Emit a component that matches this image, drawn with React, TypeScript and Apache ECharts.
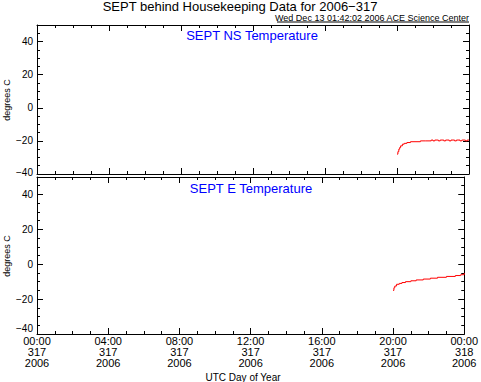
import React, { useEffect, useRef } from 'react';
import * as echarts from 'echarts';

const mainTitle = 'SEPT behind Housekeeping Data for 2006\u2212317';
const stampText = 'Wed Dec 13 01:42:02 2006 ACE Science Center';
const panelTitles = ['SEPT NS Temperature', 'SEPT E Temperature'];
const yAxisName = 'degrees C';
const xAxisName = 'UTC Day of Year';

const xTickHours = [0, 4, 8, 12, 16, 20, 24];
const xTickLabels = [
  '00:00\n317\n2006',
  '04:00\n317\n2006',
  '08:00\n317\n2006',
  '12:00\n317\n2006',
  '16:00\n317\n2006',
  '20:00\n317\n2006',
  '00:00\n318\n2006',
];

const nsHours = [20.0, 20.05, 20.1, 20.15, 20.2, 20.3, 20.4, 20.55, 20.75, 21.0, 21.3, 21.6, 21.9, 22.0, 22.1, 22.3, 22.4, 22.6, 22.7, 22.9, 23.0, 23.2, 23.3, 23.5, 23.6, 23.8, 23.9, 24.0];
const nsTemps = [-28, -26.5, -25, -24, -23, -22, -21.5, -21, -20.5, -20.5, -20, -20, -19.5, -20, -19.5, -20, -19.5, -20, -19.5, -20, -19.5, -20, -19.5, -20, -19.5, -20, -19.5, -19.5];

const eHours = [20.0, 20.05, 20.1, 20.2, 20.35, 20.5, 20.7, 21.0, 21.3, 21.7, 22.1, 22.5, 23.0, 23.5, 23.8, 24.0];
const eTemps = [-15, -13.5, -12.5, -11.5, -11, -10.5, -10, -9.5, -9, -8.5, -8, -7.5, -7, -6.5, -6, -5];

const FONT = '"Liberation Sans", Arial, sans-serif';

function fmtY(v: number) {
  return v < 0 ? '\u2212' + Math.abs(v) : String(v);
}

function fmtX(v: number) {
  const i = xTickHours.indexOf(v);
  return i >= 0 ? xTickLabels[i] : '';
}

function buildXAxes(gridIndex: number, labels: boolean) {
  const base = {
    type: 'value',
    gridIndex,
    min: 0,
    max: 24,
    splitLine: { show: false },
    axisLine: { onZero: false, lineStyle: { color: '#000', width: 1 } },
  };
  return [
    {
      ...base,
      position: 'bottom',
      interval: 4,
      axisTick: { inside: true, length: 6, lineStyle: { color: '#000' } },
      axisLabel: {
        show: labels,
        formatter: fmtX,
        color: '#000',
        fontFamily: FONT,
        fontSize: 11,
        lineHeight: 11,
        margin: 1,
      },
    },
    {
      ...base,
      position: 'bottom',
      interval: 1,
      axisLine: { show: false, onZero: false },
      axisTick: { inside: true, length: 3, lineStyle: { color: '#000' } },
      axisLabel: { show: false },
    },
    {
      ...base,
      position: 'top',
      interval: 4,
      axisTick: { inside: true, length: 6, lineStyle: { color: '#000' } },
      axisLabel: { show: false },
    },
    {
      ...base,
      position: 'top',
      interval: 1,
      axisLine: { show: false, onZero: false },
      axisTick: { inside: true, length: 3, lineStyle: { color: '#000' } },
      axisLabel: { show: false },
    },
  ];
}

function buildYAxes(gridIndex: number, minLift: number) {
  const base = {
    type: 'value',
    gridIndex,
    min: -40,
    max: 50,
    splitLine: { show: false },
    axisLine: { onZero: false, lineStyle: { color: '#000', width: 1 } },
  };
  return [
    {
      ...base,
      position: 'left',
      interval: 20,
      axisTick: { inside: true, length: 6, lineStyle: { color: '#000' } },
      axisLabel: {
        show: true,
        showMaxLabel: false,
        formatter: (v: number) => (v === 50 ? '' : v === -40 ? `{lo|${fmtY(v)}}` : fmtY(v)),
        color: '#000',
        fontFamily: FONT,
        fontSize: 10,
        margin: 4,
        rich: {
          lo: {
            color: '#000',
            fontFamily: FONT,
            fontSize: 10,
            padding: [0, 0, minLift, 0],
          },
        },
      },
    },
    {
      ...base,
      position: 'left',
      interval: 5,
      axisLine: { show: false, onZero: false },
      axisTick: { inside: true, length: 3, lineStyle: { color: '#000' } },
      axisLabel: { show: false },
    },
    {
      ...base,
      position: 'right',
      interval: 20,
      axisTick: { inside: true, length: 6, lineStyle: { color: '#000' } },
      axisLabel: { show: false },
    },
    {
      ...base,
      position: 'right',
      interval: 5,
      axisLine: { show: false, onZero: false },
      axisTick: { inside: true, length: 3, lineStyle: { color: '#000' } },
      axisLabel: { show: false },
    },
  ];
}

export default function App() {
  const ref = useRef<HTMLDivElement>(null);

  useEffect(() => {
    if (!ref.current) return;
    const chart = echarts.init(ref.current, undefined, { renderer: 'svg' });
    const nsData = nsHours.map((h, i) => [h, nsTemps[i]]);
    const eData = eHours.map((h, i) => [h, eTemps[i]]);

    chart.setOption({
      animation: false,
      backgroundColor: '#fff',
      grid: [
        { left: 37, top: 25, width: 432, height: 149 },
        { left: 37, top: 177, width: 432, height: 157 },
      ],
      xAxis: [...buildXAxes(0, false), ...buildXAxes(1, true)],
      yAxis: [...buildYAxes(0, 4), ...buildYAxes(1, 12)],
      series: [
        {
          type: 'line',
          xAxisIndex: 0,
          yAxisIndex: 0,
          data: nsData,
          step: 'end',
          showSymbol: false,
          lineStyle: { color: '#ff0000', width: 1 },
        },
        {
          type: 'line',
          xAxisIndex: 4,
          yAxisIndex: 4,
          data: eData,
          step: 'end',
          showSymbol: false,
          lineStyle: { color: '#ff0000', width: 1 },
        },
      ],
      graphic: [
        {
          type: 'text',
          x: 240,
          y: 6.5,
          style: { text: mainTitle, fill: '#000', font: `13px ${FONT}`, textAlign: 'center', textVerticalAlign: 'middle' },
        },
        {
          type: 'text',
          x: 469,
          y: 18,
          style: { text: stampText, fill: '#000', font: `9px ${FONT}`, textAlign: 'right', textVerticalAlign: 'middle' },
        },
        {
          type: 'line',
          shape: { x1: 277, y1: 22, x2: 469, y2: 22 },
          style: { stroke: '#000', lineWidth: 1 },
        },
        {
          type: 'text',
          x: 252,
          y: 35,
          style: { text: panelTitles[0], fill: '#0000ff', font: `13px ${FONT}`, textAlign: 'center', textVerticalAlign: 'middle' },
        },
        {
          type: 'text',
          x: 251,
          y: 188,
          style: { text: panelTitles[1], fill: '#0000ff', font: `13px ${FONT}`, textAlign: 'center', textVerticalAlign: 'middle' },
        },
        {
          type: 'text',
          x: 7,
          y: 100,
          rotation: Math.PI / 2,
          style: { text: yAxisName, fill: '#000', font: `9px ${FONT}`, textAlign: 'center', textVerticalAlign: 'middle' },
        },
        {
          type: 'text',
          x: 7,
          y: 256,
          rotation: Math.PI / 2,
          style: { text: yAxisName, fill: '#000', font: `9px ${FONT}`, textAlign: 'center', textVerticalAlign: 'middle' },
        },
        {
          type: 'text',
          x: 243,
          y: 377,
          style: { text: xAxisName, fill: '#000', font: `10px ${FONT}`, textAlign: 'center', textVerticalAlign: 'middle' },
        },
      ],
    });
    return () => chart.dispose();
  }, []);

  return (
    <div
      ref={ref}
      style={{ position: 'fixed', left: 0, top: 0, width: 481, height: 382, background: '#fff' }}
    />
  );
}
